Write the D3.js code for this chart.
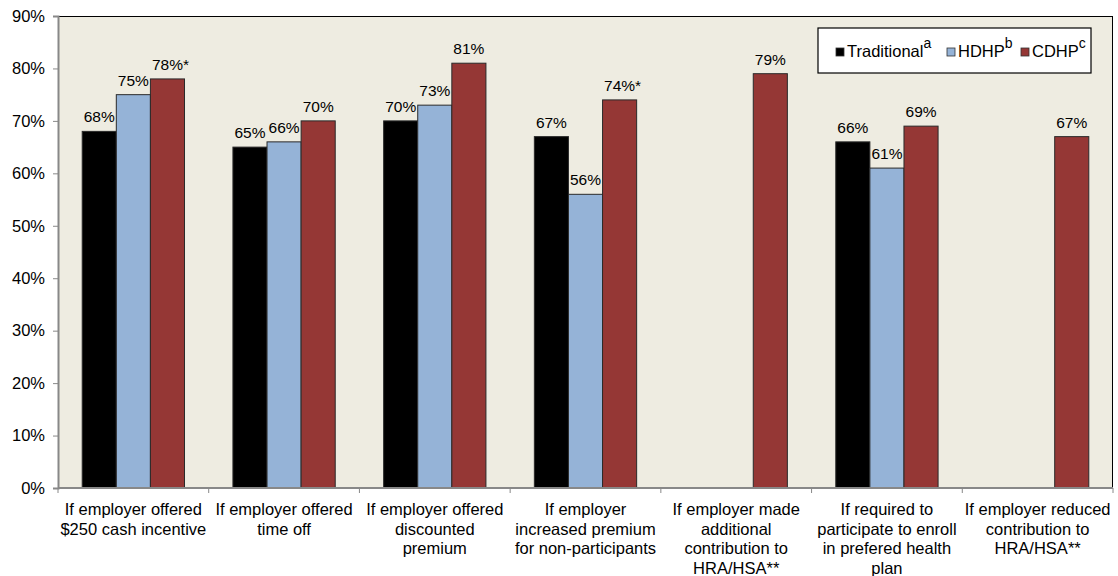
<!doctype html>
<html>
<head>
<script src="https://d3js.org/d3.v7.min.js"></script>
<style>
  body { margin: 0; background: #fff; }
  text { font-family: "Liberation Sans", Arial, sans-serif; fill: #000; }
</style>
</head>
<body>
<script>
// categories (each label split into lines)
var categories = [
  ["If employer offered", "$250 cash incentive"],
  ["If employer offered", "time off"],
  ["If employer offered", "discounted", "premium"],
  ["If employer", "increased premium", "for non-participants"],
  ["If employer made", "additional", "contribution to", "HRA/HSA**"],
  ["If required to", "participate to enroll", "in prefered health", "plan"],
  ["If employer reduced", "contribution to", "HRA/HSA**"]
];
var seriesNames = ["Traditional", "HDHP", "CDHP"];
var seriesSup = ["a", "b", "c"];
var seriesColors = ["#000000", "#95b3d7", "#953735"];
// null = not applicable
var traditional = [68, 65, 70, 67, null, 66, null];
var hdhp = [75, 66, 73, 56, null, 61, null];
var cdhp = [78, 70, 81, 74, 79, 69, 67];
var labelSuffix = [
  ["", "", "*"],
  ["", "", ""],
  ["", "", ""],
  ["", "", "*"],
  ["", "", ""],
  ["", "", ""],
  ["", "", ""]
];
var yTicks = [0, 10, 20, 30, 40, 50, 60, 70, 80, 90];

var W = 1118, H = 576;
var mLeft = 58, mRight = 1113, mTop = 16, mBottom = 488;

var svg = d3.select("body").append("svg").attr("width", W).attr("height", H);

var x0 = d3.scaleBand().domain(d3.range(categories.length)).range([mLeft, mRight]).padding(0);
var x1 = d3.scaleBand().domain(d3.range(3)).range([0, x0.bandwidth()]).paddingOuter(0.71).paddingInner(0);
var y = d3.scaleLinear().domain([0, 90]).range([mBottom, mTop]);

// plot background
svg.append("rect").attr("x", mLeft).attr("y", mTop).attr("width", mRight - mLeft).attr("height", mBottom - mTop)
  .attr("fill", "#eeece1");
svg.append("line").attr("x1", mLeft).attr("x2", mRight).attr("y1", mTop + 0.5).attr("y2", mTop + 0.5)
  .attr("stroke", "#000").attr("stroke-width", 1);
svg.append("line").attr("x1", mRight - 0.5).attr("x2", mRight - 0.5).attr("y1", mTop).attr("y2", mBottom)
  .attr("stroke", "#000").attr("stroke-width", 1);

var series = [traditional, hdhp, cdhp];

var groups = svg.append("g").selectAll("g").data(categories).enter().append("g")
  .attr("transform", function(d, i) { return "translate(" + x0(i) + ",0)"; });

groups.each(function(c, ci) {
  var g = d3.select(this);
  series.forEach(function(s, si) {
    var v = s[ci];
    if (v == null) return;
    g.append("rect")
      .attr("x", x1(si))
      .attr("y", y(v))
      .attr("width", x1.bandwidth())
      .attr("height", y(0) - y(v))
      .attr("fill", seriesColors[si])
      .attr("stroke", "#2a2a2a").attr("stroke-width", 1);
    g.append("text")
      .attr("x", x1(si) + x1.bandwidth() / 2 + (labelSuffix[ci][si] ? 3 : 0))
      .attr("y", y(v) - 9)
      .attr("text-anchor", "middle")
      .style("font-size", "15.5px")
      .text(v + "%" + labelSuffix[ci][si]);
  });
});

// y axis
var yAxis = d3.axisLeft(y).tickValues(yTicks).tickFormat(function(d) { return d + "%"; }).tickSize(5).tickPadding(8);
var ya = svg.append("g").attr("transform", "translate(" + mLeft + ",0)").call(yAxis);
ya.select(".domain").attr("stroke", "#888").attr("stroke-width", 2);
ya.selectAll(".tick line").attr("stroke", "#888");
ya.selectAll(".tick text").style("font-size", "16.5px").style("fill", "#000")
  .style("font-family", "'Liberation Sans', Arial, sans-serif");

// x axis
var xa = svg.append("g").attr("transform", "translate(0," + mBottom + ")");
xa.append("line").attr("x1", mLeft).attr("x2", mRight).attr("y1", 0).attr("y2", 0)
  .attr("stroke", "#888").attr("stroke-width", 2);
xa.selectAll(".xt").data(d3.range(categories.length + 1)).enter().append("line")
  .attr("x1", function(d) { return d < categories.length ? x0(d) : mRight; })
  .attr("x2", function(d) { return d < categories.length ? x0(d) : mRight; })
  .attr("y1", 0).attr("y2", 5).attr("stroke", "#888");
xa.selectAll(".xl").data(categories).enter().append("text")
  .attr("text-anchor", "middle")
  .style("font-size", "16.5px")
  .each(function(d, i) {
    var t = d3.select(this);
    d.forEach(function(line, li) {
      t.append("tspan").attr("x", x0(i) + x0.bandwidth() / 2).attr("y", 27 + li * 19.5).text(line);
    });
  });

// legend
var lg = svg.append("g").attr("transform", "translate(818,28)");
lg.append("rect").attr("width", 273).attr("height", 45).attr("fill", "#fff").attr("stroke", "#000").attr("stroke-width", 1.2);
var lx = [18, 129, 203];
seriesNames.forEach(function(n, i) {
  var item = lg.append("g").attr("transform", "translate(" + lx[i] + ",0)");
  item.append("rect").attr("x", 0).attr("y", 20).attr("width", 8).attr("height", 8)
    .attr("fill", seriesColors[i]).attr("stroke", "#333").attr("stroke-width", 0.8);
  var t = item.append("text").attr("x", 11).attr("y", 29).style("font-size", "16.5px");
  t.append("tspan").text(n);
  t.append("tspan").attr("dy", -9).style("font-size", "14px").text(seriesSup[i]);
});
</script>
</body>
</html>
